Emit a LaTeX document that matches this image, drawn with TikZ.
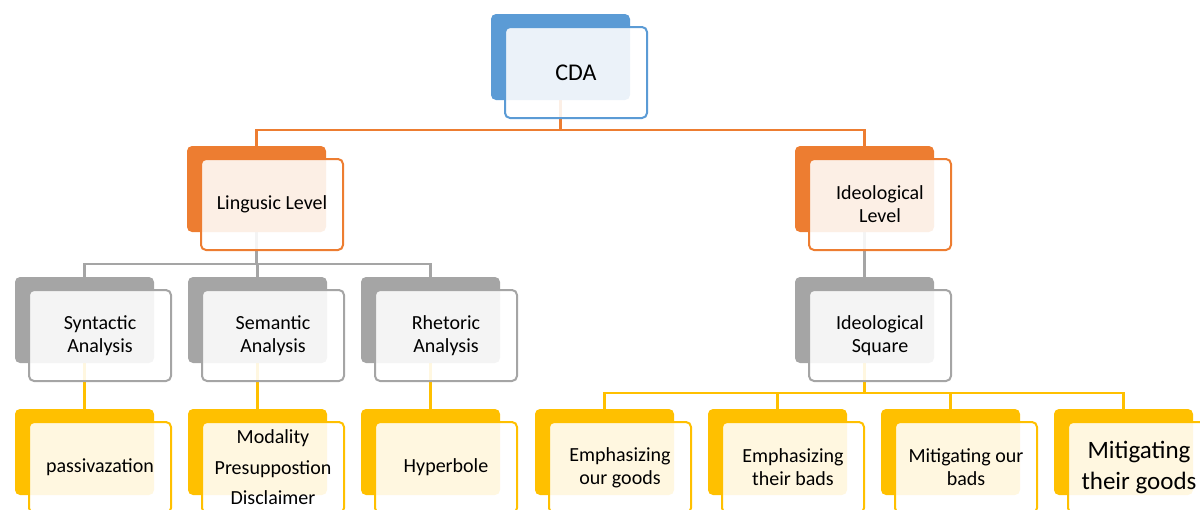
\documentclass[tikz,border=0pt]{standalone}
\usepackage{fontspec}
\setmainfont{Carlito}
\usetikzlibrary{backgrounds}
\definecolor{cblue}{HTML}{5B9BD5}
\definecolor{corange}{HTML}{ED7D31}
\definecolor{cgray}{HTML}{A5A5A5}
\definecolor{cyellow}{HTML}{FFC000}
\tikzset{
 backbox/.style={anchor=north west, minimum width=139pt, minimum height=86pt, rounded corners=5pt, fill=#1, inner sep=0pt, outer sep=0pt},
 frontbox/.style={anchor=north west, minimum width=142pt, minimum height=91pt, rounded corners=5pt, draw=#1, line width=2pt, fill=white, fill opacity=0.88, text opacity=1, inner sep=0pt, outer sep=0pt, align=center, font=\fontsize{20pt}{23pt}\selectfont},
 link/.style={draw=#1, line width=2.2pt},
}
\newcommand\unitbox[6]{%
  \node[backbox=#4] (#1b) at (#2,#3) {};
  \node[frontbox=#4, #5] (#1) at (#2+14,#3+13) {#6};
}
\begin{document}
\begin{tikzpicture}[x=1pt,y=-1pt]
\useasboundingbox (0,0) rectangle (1200,509);
\clip (0,0) rectangle (1200,509);
\unitbox{cda}{491}{14}{cblue}{font=\fontsize{24pt}{28pt}\selectfont}{CDA}
\unitbox{ling}{187}{146}{corange}{}{Lingusic Level}
\unitbox{ideo}{795}{146}{corange}{}{Ideological\\Level}
\unitbox{syn}{15}{277}{cgray}{}{Syntactic\\Analysis}
\unitbox{sem}{188}{277}{cgray}{}{Semantic\\Analysis}
\unitbox{rhe}{361}{277}{cgray}{}{Rhetoric\\Analysis}
\unitbox{sq}{795}{277}{cgray}{}{Ideological\\Square}
\unitbox{pas}{15}{409}{cyellow}{}{passivazation}
\unitbox{mod}{188}{409}{cyellow}{font=\fontsize{20pt}{30.5pt}\selectfont}{Modality\\Presuppostion\\Disclaimer}
\unitbox{hyp}{361}{409}{cyellow}{}{Hyperbole}
\unitbox{eog}{535}{409}{cyellow}{}{Emphasizing\\our goods}
\unitbox{etb}{708}{409}{cyellow}{}{Emphasizing\\their bads}
\unitbox{mob}{881}{409}{cyellow}{}{Mitigating our\\bads}
\unitbox{mtg}{1054}{409}{cyellow}{font=\fontsize{25pt}{31pt}\selectfont}{Mitigating\\their goods}
\begin{pgfonlayer}{background}
\draw[link=corange] (cdab.south) -- ++(0,30) -| (lingb.north);
\draw[link=corange] (cdab.south) -- ++(0,30) -| (ideob.north);
\draw[link=cgray] (lingb.south) -- ++(0,32) -| (synb.north);
\draw[link=cgray] (lingb.south) -- ++(0,32) -| (semb.north);
\draw[link=cgray] (lingb.south) -- ++(0,32) -| (rheb.north);
\draw[link=cgray] (ideob.south) -- (sqb.north);
\draw[link=cyellow] (synb.south) -- (pasb.north);
\draw[link=cyellow] (semb.south) -- (modb.north);
\draw[link=cyellow] (rheb.south) -- (hypb.north);
\draw[link=cyellow] (sqb.south) -- ++(0,30) -| (eogb.north);
\draw[link=cyellow] (sqb.south) -- ++(0,30) -| (etbb.north);
\draw[link=cyellow] (sqb.south) -- ++(0,30) -| (mobb.north);
\draw[link=cyellow] (sqb.south) -- ++(0,30) -| (mtgb.north);
\end{pgfonlayer}
\end{tikzpicture}
\end{document}
